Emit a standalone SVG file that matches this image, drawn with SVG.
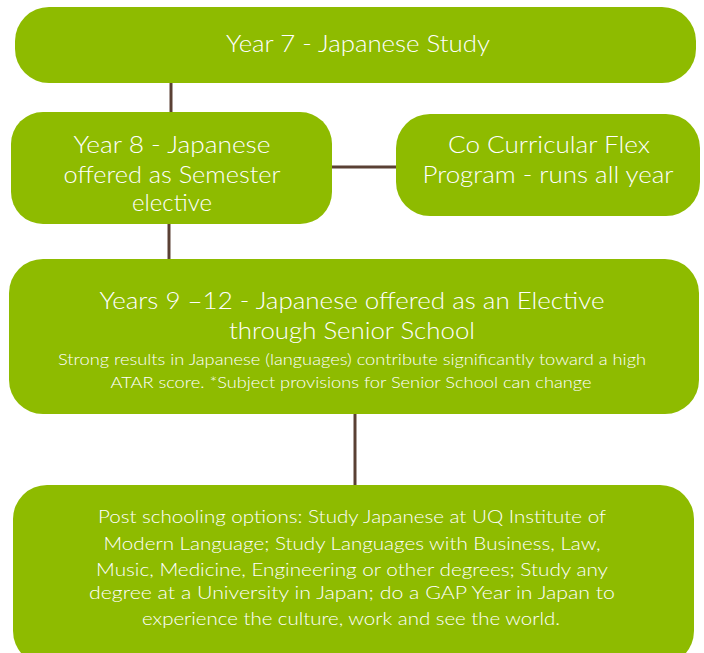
<svg xmlns="http://www.w3.org/2000/svg" width="704" height="653" viewBox="0 0 704 653">
<style>
.box{fill:#8EBB00}
.t{fill:#ffffff;font-family:Lato,"Open Sans","DejaVu Sans",sans-serif;font-weight:300;text-anchor:middle}
.big{font-size:24px}
.mid{font-size:18px}
.sm{font-size:16px}
.c{stroke:#5A4034;stroke-width:3;fill:none}
</style>
<rect width="704" height="653" fill="#ffffff"/>
<g id="connectors">
<line class="c" x1="171" y1="82" x2="171" y2="114"/>
<line class="c" x1="330" y1="167" x2="399" y2="167"/>
<line class="c" x1="169" y1="222" x2="169" y2="261"/>
<line class="c" x1="355" y1="412" x2="355" y2="486"/>
</g>
<g id="n1">
<rect class="box" x="15" y="7" width="681" height="76" rx="34"/>
<text class="t big" x="358" y="52" textLength="264" lengthAdjust="spacingAndGlyphs">Year 7 - Japanese Study</text>
</g>
<g id="n2">
<rect class="box" x="11" y="112" width="321" height="112" rx="32"/>
<text class="t big" x="172" y="153" textLength="197" lengthAdjust="spacingAndGlyphs">Year 8 - Japanese</text>
<text class="t big" x="172" y="183" textLength="217" lengthAdjust="spacingAndGlyphs">offered as Semester</text>
<text class="t big" x="172" y="211" textLength="80" lengthAdjust="spacingAndGlyphs">elective</text>
</g>
<g id="n3">
<rect class="box" x="396" y="114" width="304" height="102" rx="34"/>
<text class="t big" x="549" y="153" textLength="202" lengthAdjust="spacingAndGlyphs">Co Curricular Flex</text>
<text class="t big" x="548" y="183" textLength="251" lengthAdjust="spacingAndGlyphs">Program - runs all year</text>
</g>
<g id="n4">
<rect class="box" x="9" y="259" width="690" height="155" rx="34"/>
<text class="t big" x="352" y="309" textLength="505" lengthAdjust="spacingAndGlyphs">Years 9 –12 - Japanese offered as an Elective</text>
<text class="t big" x="352" y="339" textLength="246" lengthAdjust="spacingAndGlyphs">through Senior School</text>
<text class="t sm" x="352" y="365" textLength="588" lengthAdjust="spacingAndGlyphs">Strong results in Japanese (languages) contribute significantly toward a high</text>
<text class="t sm" x="351" y="388" textLength="481" lengthAdjust="spacingAndGlyphs">ATAR score. *Subject provisions for Senior School can change</text>
</g>
<g id="n5">
<rect class="box" x="13" y="485" width="681" height="180" rx="34"/>
<text class="t mid" x="352" y="523" textLength="508" lengthAdjust="spacingAndGlyphs">Post schooling options: Study Japanese at UQ Institute of</text>
<text class="t mid" x="352" y="550" textLength="497" lengthAdjust="spacingAndGlyphs">Modern Language; Study Languages with Business, Law,</text>
<text class="t mid" x="352" y="576" textLength="512" lengthAdjust="spacingAndGlyphs">Music, Medicine, Engineering or other degrees; Study any</text>
<text class="t mid" x="352" y="599" textLength="526" lengthAdjust="spacingAndGlyphs">degree at a University in Japan; do a GAP Year in Japan to</text>
<text class="t mid" x="351" y="625" textLength="418" lengthAdjust="spacingAndGlyphs">experience the culture, work and see the world.</text>
</g>
</svg>
